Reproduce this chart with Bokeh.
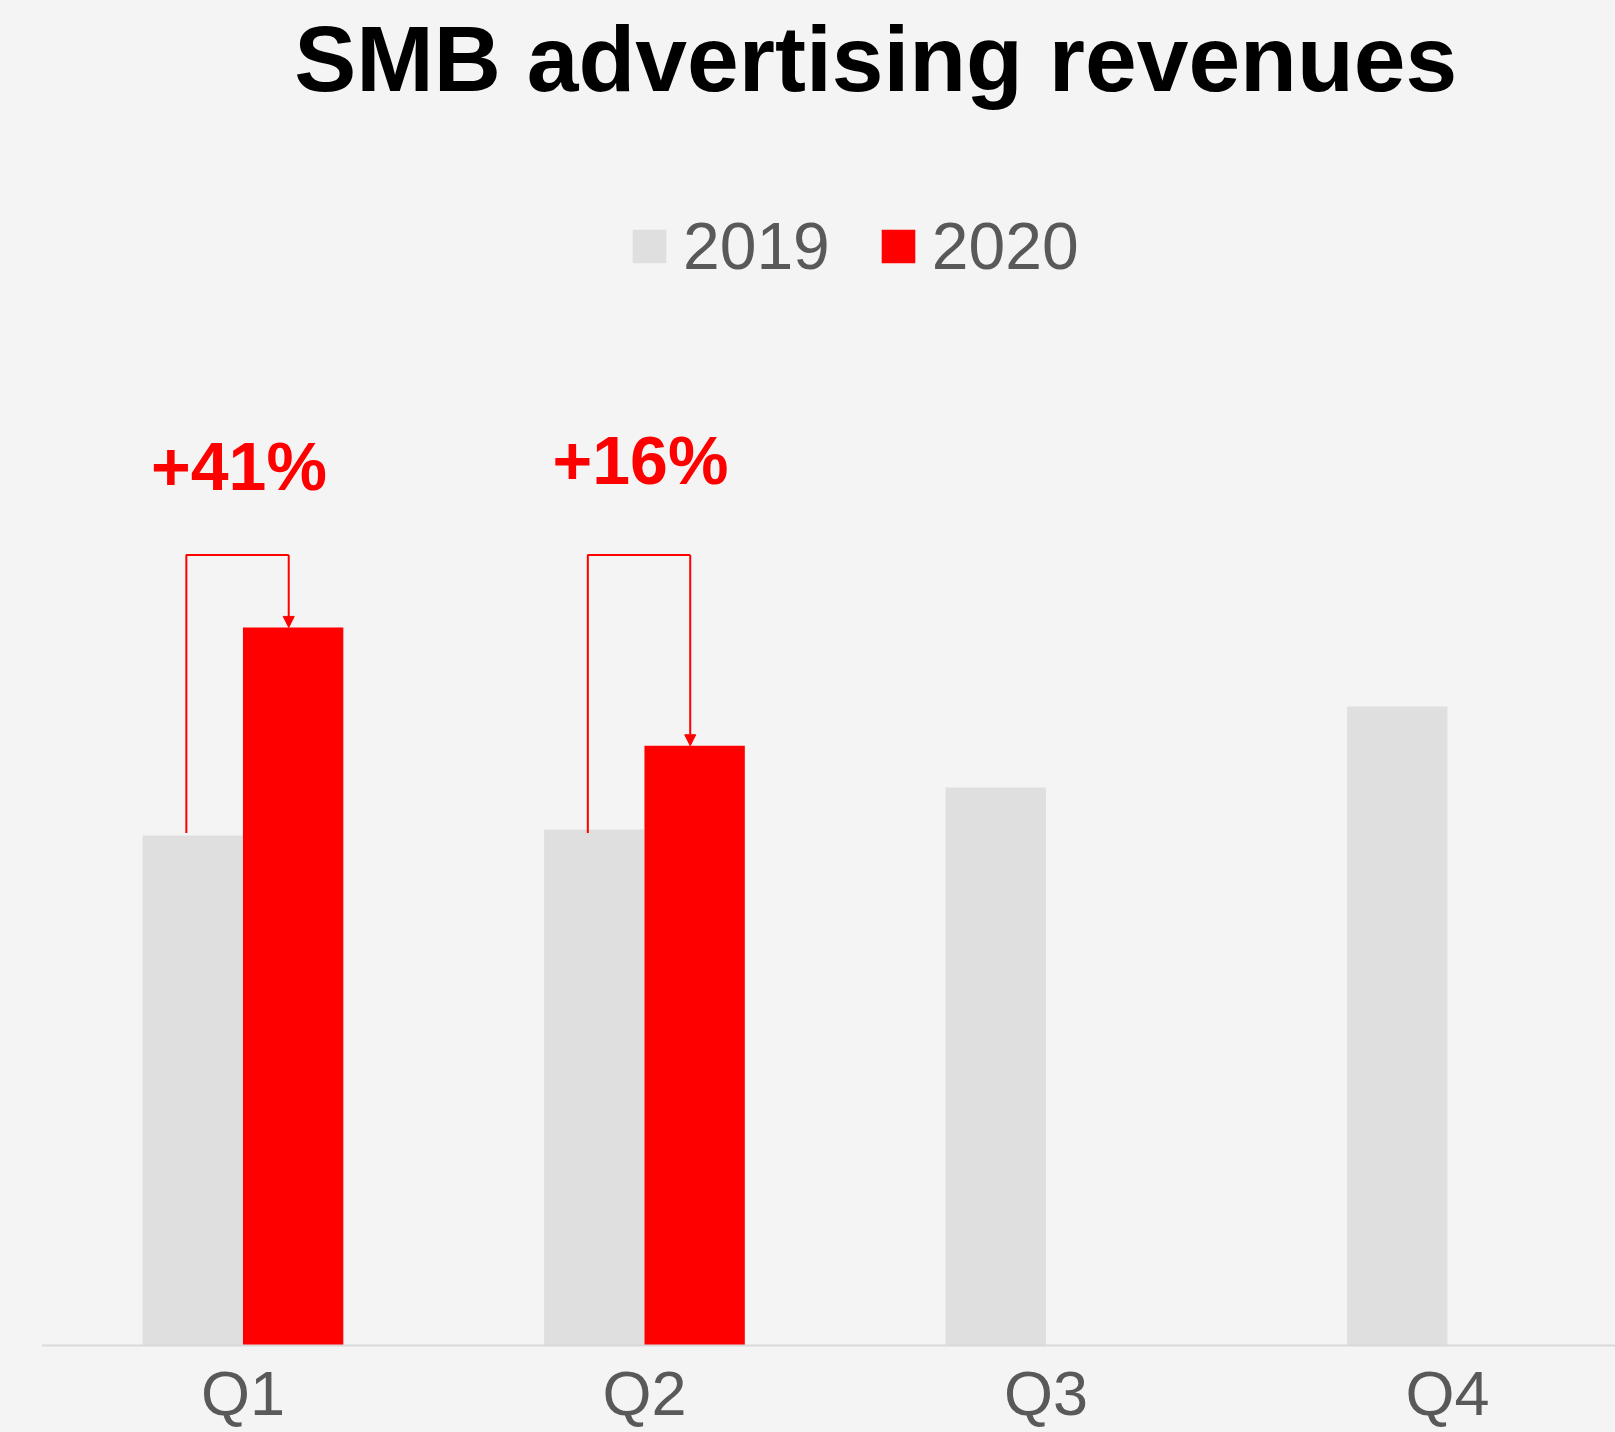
from bokeh.plotting import figure
from bokeh.models import (ColumnDataSource, Range1d, Legend, LegendItem, Label,
                          Arrow, NormalHead)
from bokeh.core.properties import value
from bokeh.embed import file_html
from bokeh.resources import INLINE

# ---------------- data ----------------
quarters = ["Q1", "Q2", "Q3", "Q4"]
rev_2019 = [100.0, 101.2, 109.4, 125.3]
rev_2020 = [140.8, 117.6]
growth_labels = ["+41%", "+16%"]
title_text = "SMB advertising revenues"
series_names = ["2019", "2020"]

# ---------------- style / layout ----------------
W, H = 1615, 1432
BG = "#f4f4f4"
GREY = "#dfdfdf"
RED = "#ff0000"
TXT = "#595959"
FONT = "Liberation Sans"
PX_PER_UNIT = 5.1          # vertical scale (px per data unit)
CAT_PX = 401.5             # px per category
LEFT_PX = 41.7             # canvas px where category range starts
BASE_PX = 1345.0           # canvas px of the baseline
BAR_W = 0.25

x_start = -0.5 - LEFT_PX / CAT_PX
x_end = -0.5 + (W - LEFT_PX) / CAT_PX
y_start = -(H - BASE_PX) / PX_PER_UNIT
y_end = BASE_PX / PX_PER_UNIT

p = figure(width=W, height=H, output_backend="svg", toolbar_location=None,
           x_range=Range1d(x_start, x_end), y_range=Range1d(y_start, y_end),
           min_border_left=0, min_border_right=0, min_border_top=0, min_border_bottom=0,
           background_fill_color=BG, border_fill_color=BG, outline_line_color=None)
p.xaxis.visible = False
p.yaxis.visible = False
p.xgrid.visible = False
p.ygrid.visible = False

idx = list(range(len(quarters)))
src19 = ColumnDataSource(dict(x=[i - BAR_W / 2 for i in idx], top=rev_2019))
idx20 = list(range(len(rev_2020)))
src20 = ColumnDataSource(dict(x=[i + BAR_W / 2 for i in idx20], top=rev_2020))

r19 = p.vbar(x="x", top="top", bottom=0, width=BAR_W, source=src19,
             fill_color=GREY, line_color=None)
r20 = p.vbar(x="x", top="top", bottom=0, width=BAR_W, source=src20,
             fill_color=RED, line_color=None)

# baseline (category axis line)
p.segment(x0=[-0.5], y0=[0], x1=[x_end], y1=[0], line_color="#d9d9d9", line_width=2)

# category labels
p.text(x=idx, y=[-9.3] * len(idx), text=quarters, text_align="center",
       text_baseline="alphabetic", text_font=value(FONT), text_font_size="63px",
       text_color=TXT)

# growth brackets
LEFT_OFF = -0.141
RIGHT_OFF = 0.114
bracket_top = 155.0
bracket_bottom = 100.5
xs, ys = [], []
for i in idx20:
    xs.append([i + LEFT_OFF, i + LEFT_OFF, i + RIGHT_OFF])
    ys.append([bracket_bottom, bracket_top, bracket_top])
p.multi_line(xs=xs, ys=ys, line_color=RED, line_width=2)
arrow_src = ColumnDataSource(dict(x0=[i + RIGHT_OFF for i in idx20],
                                  y0=[bracket_top] * len(idx20),
                                  x1=[i + RIGHT_OFF for i in idx20],
                                  y1=rev_2020))
p.add_layout(Arrow(end=NormalHead(size=11, fill_color=RED, line_color=RED, line_width=1),
                   x_start="x0", y_start="y0", x_end="x1", y_end="y1",
                   line_color=RED, line_width=2, source=arrow_src))

# growth labels
p.text(x=[i - 0.01 for i in idx20], y=[172.4, 173.6], text=growth_labels,
       text_align="center", text_baseline="alphabetic", text_font=value(FONT),
       text_font_style="bold", text_font_size="68px", text_color=RED)

# title
p.add_layout(Label(x=1.576, y=252.2, text=title_text, text_align="center",
                   text_baseline="alphabetic", text_font=FONT, text_font_style="bold",
                   text_font_size="93px", text_color="#000000"))

# legend
legend = Legend(items=[LegendItem(label=series_names[0], renderers=[r19]),
                       LegendItem(label=series_names[1], renderers=[r20])],
                orientation="horizontal", location=(628, 1148),
                glyph_width=42, glyph_height=42, label_standoff=13, spacing=47,
                label_text_font=FONT, label_text_font_size="66px",
                label_text_color=TXT, padding=0, margin=0,
                border_line_color=None, background_fill_alpha=0)
p.add_layout(legend)

html = file_html(p, INLINE)
html = html.replace("<head>", "<head><style>html,body{background:%s;}</style>" % BG, 1)
open("out.html", "w").write(html)
